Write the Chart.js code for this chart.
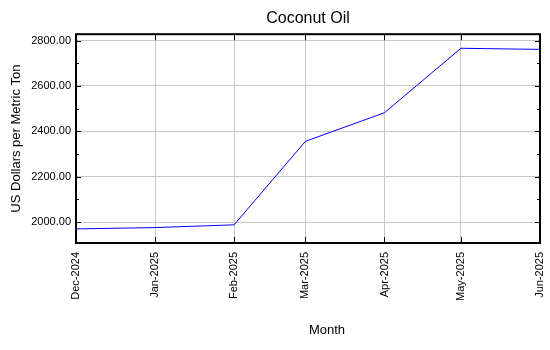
<!DOCTYPE html>
<html>
<head>
<meta charset="utf-8">
<script src="https://cdn.jsdelivr.net/npm/chart.js@4"></script>
<style>
  html, body { margin: 0; padding: 0; background: #fff; }
  #wrap { width: 550px; height: 350px; }
</style>
</head>
<body>
<div id="wrap"><canvas id="chart" width="550" height="350"></canvas></div>
<script>
// data
const months = ['2024-12-01', '2025-01-01', '2025-02-01', '2025-03-01', '2025-04-01', '2025-05-01', '2025-06-01'];
const prices = [1970, 1976, 1988, 2356, 2482, 2766, 2761];
const yTicks = [2000, 2200, 2400, 2600, 2800];
const yMinor = [2100, 2300, 2500, 2700];
const monthNames = ['Jan', 'Feb', 'Mar', 'Apr', 'May', 'Jun', 'Jul', 'Aug', 'Sep', 'Oct', 'Nov', 'Dec'];

const DAY = 86400000;
const t0 = Date.parse(months[0]);
const toDay = s => (Date.parse(s) - t0) / DAY;
const monthDays = months.map(toDay);

const fmtMonth = d => {
    const dt = new Date(t0 + d * DAY);
    return monthNames[dt.getUTCMonth()] + '-' + dt.getUTCFullYear();
};

// frame, inward ticks and the x axis title
const framePlugin = {
    id: 'frame',
    afterDraw(chart) {
        const { ctx, chartArea: a, scales } = chart;
        const x = scales.x, y = scales.y;
        ctx.save();
        ctx.strokeStyle = '#000';
        ctx.lineWidth = 1;
        ctx.beginPath();
        monthDays.forEach(d => {
            const px = Math.round(x.getPixelForValue(d)) + 0.5;
            ctx.moveTo(px, a.top); ctx.lineTo(px, a.top + 6);
            ctx.moveTo(px, a.bottom); ctx.lineTo(px, a.bottom - 6);
        });
        yTicks.forEach(v => {
            const py = Math.round(y.getPixelForValue(v)) + 0.5;
            ctx.moveTo(a.left, py); ctx.lineTo(a.left + 5, py);
            ctx.moveTo(a.right, py); ctx.lineTo(a.right - 5, py);
        });
        yMinor.forEach(v => {
            const py = Math.round(y.getPixelForValue(v)) + 0.5;
            ctx.moveTo(a.left, py); ctx.lineTo(a.left + 3, py);
            ctx.moveTo(a.right, py); ctx.lineTo(a.right - 3, py);
        });
        ctx.stroke();
        ctx.lineWidth = 2;
        ctx.strokeRect(a.left, a.top, a.right - a.left, a.bottom - a.top);

        ctx.fillStyle = '#000';
        ctx.font = '13px "Liberation Sans", Arial, sans-serif';
        ctx.textAlign = 'center';
        ctx.textBaseline = 'middle';
        ctx.fillText('Month', (a.left + a.right) / 2 + 19, 330);
        ctx.restore();
    }
};

new Chart(document.getElementById('chart'), {
    type: 'line',
    data: {
        datasets: [{
            data: monthDays.map((d, i) => ({ x: d, y: prices[i] })),
            borderColor: '#0000ff',
            borderWidth: 1,
            pointRadius: 0,
            tension: 0,
            fill: false
        }]
    },
    options: {
        responsive: false,
        animation: false,
        layout: { padding: { left: 0, right: 10, top: 0, bottom: 0 } },
        plugins: {
            legend: { display: false },
            tooltip: { enabled: false },
            title: {
                display: true,
                text: 'Coconut Oil',
                fullSize: false,
                color: '#000',
                font: { size: 16, family: '"Liberation Sans", Arial, sans-serif', weight: 'normal' },
                padding: { top: 9, bottom: 6 }
            }
        },
        scales: {
            x: {
                type: 'linear',
                min: monthDays[0],
                max: monthDays[monthDays.length - 1],
                afterBuildTicks: s => { s.ticks = monthDays.map(v => ({ value: v })); },
                afterFit: s => { s.height = 107; s.paddingLeft = 0; s.paddingRight = 0; },
                grid: { color: '#c6c9c6', drawTicks: false },
                border: { display: false },
                ticks: {
                    autoSkip: false,
                    minRotation: 90,
                    maxRotation: 90,
                    padding: 9,
                    color: '#000',
                    font: { size: 11, family: '"Liberation Sans", Arial, sans-serif' },
                    callback: v => fmtMonth(v)
                }
            },
            y: {
                min: 1908,
                max: 2828,
                afterBuildTicks: s => { s.ticks = yTicks.map(v => ({ value: v })); },
                afterFit: s => { s.width = 76; },
                grid: { color: '#c6c9c6', drawTicks: false },
                border: { display: false },
                ticks: {
                    padding: 5,
                    color: '#000',
                    font: { size: 11, family: '"Liberation Sans", Arial, sans-serif' },
                    callback: v => v.toFixed(2)
                },
                title: {
                    display: true,
                    text: 'US Dollars per Metric Ton',
                    color: '#000',
                    font: { size: 13, family: '"Liberation Sans", Arial, sans-serif' },
                    padding: { top: 9, bottom: 0 }
                }
            }
        }
    },
    plugins: [framePlugin]
});
</script>
</body>
</html>
